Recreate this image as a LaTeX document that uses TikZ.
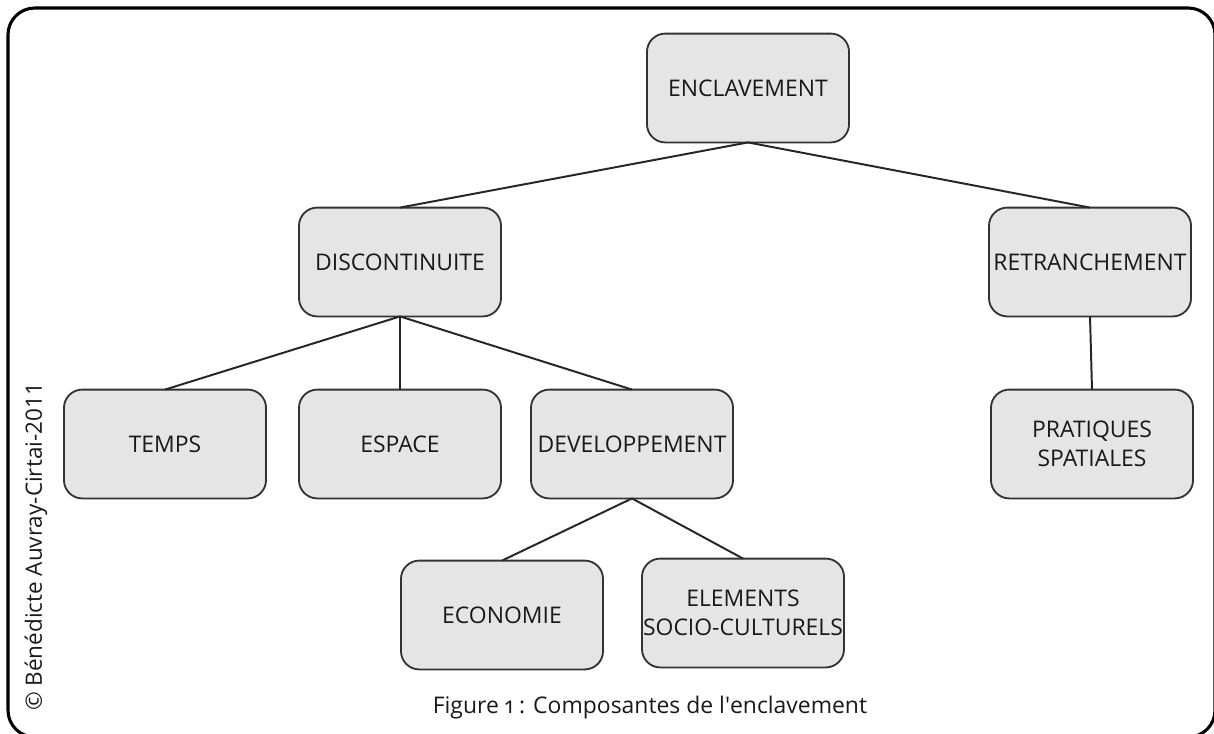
\documentclass[tikz,border=0pt]{standalone}
\usepackage{fontspec}
\setmainfont{Open Sans}
\begin{document}
\begin{tikzpicture}[x=0.025cm, y=-0.025cm,
  box/.style={draw=black!80, line width=1.3pt, fill=black!10, rounded corners=13pt,
    minimum width=5.05cm, minimum height=2.72cm, inner xsep=0pt, outer sep=0pt,
    align=center, text=black!90, font=\fontsize{16.3}{20.5}\selectfont},
  link/.style={line width=1.4pt, black!85}]
\useasboundingbox (0, 0) rectangle (1214, 733);
\clip (0, 0) rectangle (1214, 733);
\draw[line width=2.2pt, rounded corners=19pt] (8, 8) rectangle (1215, 737); %frame
\node[box] (encl) at (748, 88) {ENCLAVEMENT};
\node[box] (disc) at (400, 262) {DISCONTINUITE};
\node[box] (retr) at (1090, 262) {RETRANCHEMENT};
\node[box] (temps) at (165, 444) {TEMPS};
\node[box] (espace) at (400, 444) {ESPACE};
\node[box] (devel) at (632, 444) {DEVELOPPEMENT};
\node[box] (prat) at (1092, 444) {PRATIQUES\\SPATIALES};
\node[box] (eco) at (502, 615) {ECONOMIE};
\node[box] (socio) at (743, 613) {ELEMENTS\\SOCIO-CULTURELS};
\draw[link] (encl.south) -- (disc.north); %encl-disc
\draw[link] (encl.south) -- (retr.north); %encl-retr
\draw[link] (disc.south) -- (temps.north);
\draw[link] (disc.south) -- (espace.north);
\draw[link] (disc.south) -- (devel.north);
\draw[link] (retr.south) -- (prat.north);
\draw[link] (devel.south) -- (eco.north);
\draw[link] (devel.south) -- (socio.north);
\node[anchor=base, text=black!90, font=\fontsize{16.3}{20}\selectfont] (caption) at (650, 713)
  {Figure {\addfontfeatures{Numbers=OldStyle}1} : Composantes de l\textquotesingle enclavement};
\node[rotate=90, text=black!90, font=\fontsize{16}{20}\selectfont] (credit) at (36, 547)
  {© Bénédicte Auvray-Cirtai-2011};
\end{tikzpicture}
\end{document}
